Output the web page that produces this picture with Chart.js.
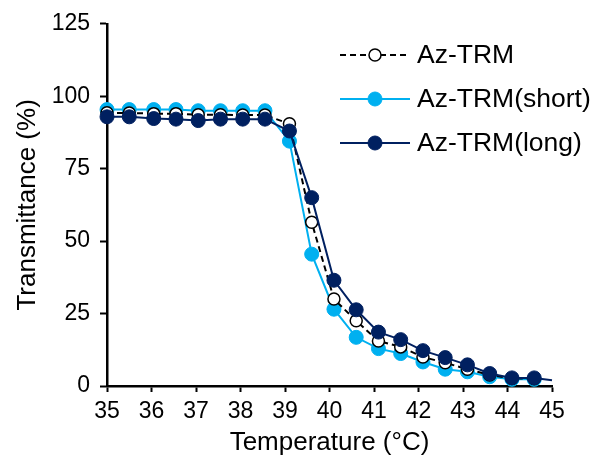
<!DOCTYPE html>
<html><head><meta charset="utf-8">
<script src="https://cdn.jsdelivr.net/npm/chart.js@4.4.1/dist/chart.umd.min.js"></script>
<style>html,body{margin:0;padding:0;background:#fff}#wrap{width:595px;height:468px;position:relative}canvas{display:block}</style>
</head><body><div id="wrap"><canvas id="c" width="595" height="468" style="width:595px;height:468px"></canvas></div>
<script>
const seriesNames = ['Az-TRM', 'Az-TRM(short)', 'Az-TRM(long)'];
const temperatures = [35, 35.5, 36.05, 36.55, 37.05, 37.55, 38.05, 38.55, 39.1, 39.6, 40.1, 40.6, 41.1, 41.6, 42.1, 42.6, 43.1, 43.6, 44.1, 44.6];
const azValues    = [94.3, 94.2, 94.0, 94.0, 93.6, 93.6, 93.5, 93.5, 90.5, 56.5, 30.0, 22.5, 15.5, 13.5, 10.0, 8.0, 5.8, 3.8, 2.6, 2.5];
const shortValues = [95.4, 95.4, 95.4, 95.4, 95.0, 95.0, 95.0, 95.0, 84.5, 45.5, 26.5, 16.8, 12.9, 11.2, 8.3, 5.8, 4.9, 3.2, 2.3, 2.3];
const longValues  = [92.9, 92.9, 92.3, 92.1, 91.6, 92.1, 92.1, 92.1, 88.0, 65.0, 36.5, 26.3, 18.6, 16.0, 12.2, 9.8, 7.3, 4.3, 2.8, 2.8];
const longEnd = {x: 45, y: 2.0};
const xTicks = [35, 36, 37, 38, 39, 40, 41, 42, 43, 44, 45];
const yTicks = [0, 25, 50, 75, 100, 125];
const xTitle = 'Temperature (°C)';
const yTitle = 'Transmittance (%)';

const pts = (xs, ys) => ys.map((y, i) => ({x: xs[i], y}));
const FONT = 'Liberation Sans, Arial, sans-serif';

const legendPlugin = {
  id: 'inlineLegend',
  afterDatasetsDraw(chart) {
    const ctx = chart.ctx;
    const x0 = 340, x1 = 410, xm = 375, tx = 417;
    const rows = [55, 99, 143];
    chart.data.datasets.forEach((ds, i) => {
      const y = rows[i];
      ctx.save();
      ctx.strokeStyle = ds.borderColor;
      ctx.lineWidth = ds.borderWidth;
      ctx.setLineDash(ds.borderDash || []);
      ctx.beginPath(); ctx.moveTo(x0, y); ctx.lineTo(x1, y); ctx.stroke();
      ctx.setLineDash([]);
      ctx.beginPath();
      ctx.arc(xm, y, ds.legendRadius, 0, Math.PI * 2);
      ctx.fillStyle = ds.pointBackgroundColor;
      ctx.fill();
      ctx.lineWidth = ds.pointBorderWidth;
      ctx.strokeStyle = ds.pointBorderColor;
      ctx.stroke();
      ctx.fillStyle = '#000';
      ctx.font = '26.5px ' + FONT;
      ctx.textBaseline = 'middle';
      ctx.textAlign = 'left';
      ctx.fillText(ds.label, tx, y + 1);
      ctx.restore();
    });
  }
};

new Chart(document.getElementById('c'), {
  type: 'line',
  data: {
    datasets: [
      {
        label: seriesNames[0], data: pts(temperatures, azValues), order: 1,
        borderColor: '#000', borderWidth: 2, borderDash: [6, 4],
        pointRadius: 6, pointBackgroundColor: '#fff', pointBorderColor: '#000', pointBorderWidth: 1.5,
        legendRadius: 6, clip: false, tension: 0
      },
      {
        label: seriesNames[1], data: pts(temperatures, shortValues), order: 2,
        borderColor: '#00B0F0', borderWidth: 2,
        pointRadius: 7, pointBackgroundColor: '#00B0F0', pointBorderColor: '#00B0F0', pointBorderWidth: 1,
        legendRadius: 7, clip: false, tension: 0
      },
      {
        label: seriesNames[2], data: pts(temperatures, longValues).concat([longEnd]), order: 0,
        borderColor: '#002060', borderWidth: 2,
        pointRadius: c => c.dataIndex >= temperatures.length ? 0 : 7,
        pointBackgroundColor: '#002060', pointBorderColor: '#002060', pointBorderWidth: 1,
        legendRadius: 7, clip: false, tension: 0
      }
    ]
  },
  options: {
    responsive: false, animation: false, devicePixelRatio: 1,
    layout: {padding: {top: 22, right: 43, left: 2, bottom: 10}},
    plugins: {legend: {display: false}, tooltip: {enabled: false}},
    scales: {
      x: {
        type: 'linear', min: 35, max: 45,
        afterBuildTicks: s => { s.ticks = xTicks.map(v => ({value: v})); },
        afterFit: s => { s.height = 72; },
        grid: {drawOnChartArea: false, drawTicks: true, tickLength: 6, color: '#000', tickWidth: 2},
        border: {color: '#000', width: 2.5},
        ticks: {color: '#000', font: {family: FONT, size: 23}, padding: 6, maxRotation: 0},
        title: {display: true, text: xTitle, color: '#000', font: {family: FONT, size: 26}, padding: {top: 4, bottom: 0}}
      },
      y: {
        type: 'linear', min: 0, max: 125,
        afterBuildTicks: s => { s.ticks = yTicks.map(v => ({value: v})); },
        afterFit: s => { s.width = 105; },
        grid: {drawOnChartArea: false, drawTicks: true, tickLength: 7, color: '#000', tickWidth: 2},
        border: {color: '#000', width: 2.5},
        ticks: {color: '#000', font: {family: FONT, size: 23}, padding: 10},
        title: {display: true, text: yTitle, color: '#000', font: {family: FONT, size: 26}, padding: {top: 10, bottom: 0}}
      }
    }
  },
  plugins: [legendPlugin]
});
</script></body></html>
